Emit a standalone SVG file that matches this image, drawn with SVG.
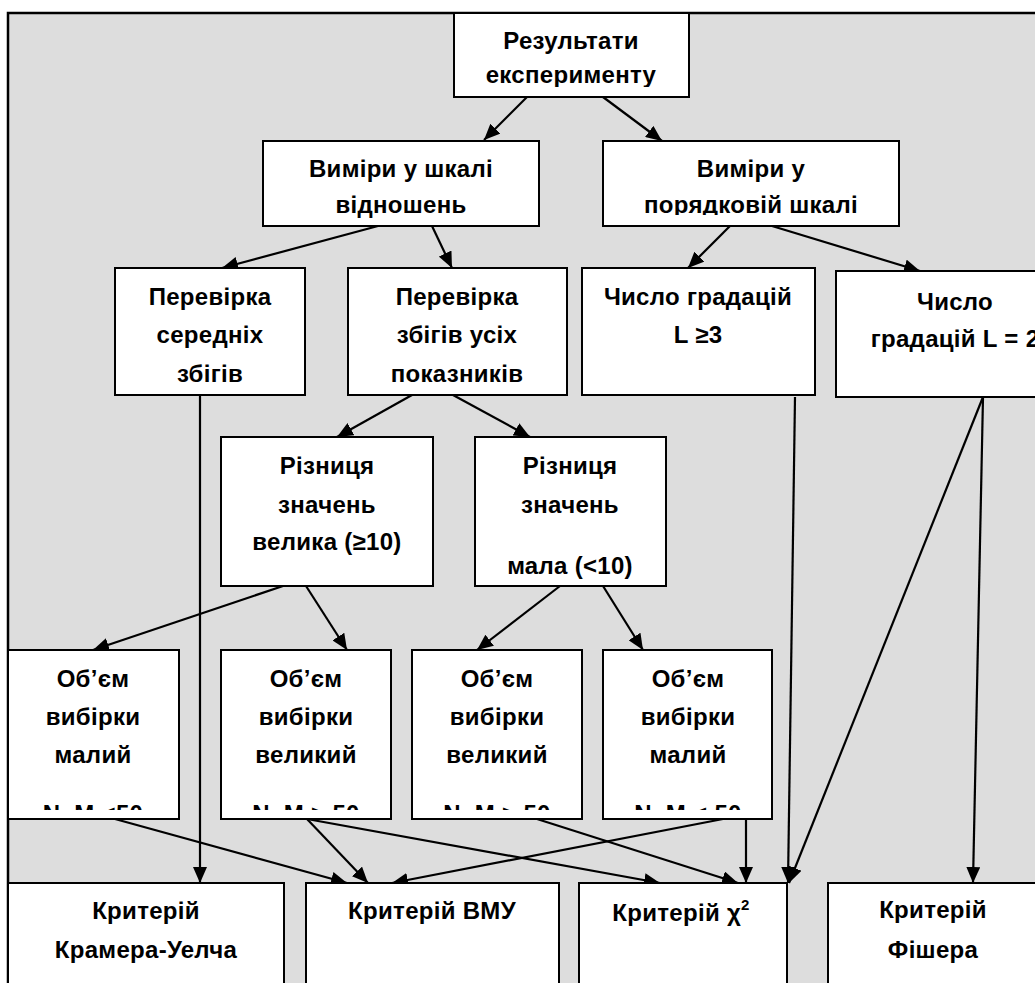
<svg xmlns="http://www.w3.org/2000/svg" width="1035" height="983" viewBox="0 0 1035 983">
<style>
.box{fill:#fff;stroke:#000;stroke-width:2}
.t{font-family:"Liberation Sans",Arial,sans-serif;font-weight:bold;font-size:24px;letter-spacing:0.3px;fill:#000;text-anchor:middle}
.c{fill:none;stroke:#000;stroke-width:2.2;marker-end:url(#ah)}
</style>
<defs>
<marker id="ah" markerUnits="userSpaceOnUse" markerWidth="16" markerHeight="14" viewBox="0 0 16 14" refX="16" refY="7" orient="auto">
<path d="M0,0 L16,7 L0,14 z" fill="#000"/>
</marker>
<clipPath id="k1"><rect x="454" y="13" width="235" height="74"/></clipPath>
<clipPath id="k2b"><rect x="603" y="141" width="296" height="74"/></clipPath>
<clipPath id="k5a"><rect x="8" y="650" width="171" height="160"/></clipPath>
<clipPath id="k5b"><rect x="221" y="650" width="170" height="160"/></clipPath>
<clipPath id="k5c"><rect x="412" y="650" width="170" height="160"/></clipPath>
<clipPath id="k5d"><rect x="603" y="650" width="169" height="160"/></clipPath>
</defs>
<rect x="8" y="13" width="1040" height="1000" fill="#ddd" stroke="#000" stroke-width="2.5"/>
<g id="connectors">
<path class="c" d="M527,97 L484,140"/>
<path class="c" d="M603,97 L662,141"/>
<path class="c" d="M378,226 L222,268"/>
<path class="c" d="M432,226 L452,268"/>
<path class="c" d="M730,226 L688,268"/>
<path class="c" d="M772,226 L920,271"/>
<path class="c" d="M200,395 L200,883"/>
<path class="c" d="M412,395 L337,437"/>
<path class="c" d="M453,395 L530,437"/>
<path class="c" d="M283,586 L93,650"/>
<path class="c" d="M306,586 L347,650"/>
<path class="c" d="M560,586 L477,650"/>
<path class="c" d="M603,586 L643,650"/>
<path class="c" d="M795,397 L788,883"/>
<path class="c" d="M983,397 L789,883"/>
<path class="c" d="M983,397 L973,883"/>
<path class="c" d="M115,819 L347,883"/>
<path class="c" d="M307,819 L368,883"/>
<path class="c" d="M307,819 L660,883"/>
<path class="c" d="M537,819 L738,883"/>
<path class="c" d="M723,819 L392,883"/>
<path class="c" d="M746,819 L746,883"/>
</g>
<g id="n-results"><rect class="box" x="454" y="13" width="235" height="84"/>
<g clip-path="url(#k1)"><text class="t" x="571" y="49">Результати</text><text class="t" x="571" y="83">експерименту</text></g></g>
<g id="n-ratio"><rect class="box" x="263" y="141" width="276" height="85"/>
<text class="t" x="401" y="177">Виміри у шкалі</text><text class="t" x="401" y="213">відношень</text></g>
<g id="n-ordinal"><rect class="box" x="603" y="141" width="296" height="85"/>
<g clip-path="url(#k2b)"><text class="t" x="751" y="177">Виміри у</text><text class="t" x="751" y="213">порядковій шкалі</text></g></g>
<g id="n-means"><rect class="box" x="115" y="268" width="190" height="127"/>
<text class="t" x="210" y="305">Перевірка</text><text class="t" x="210" y="343">середніх</text><text class="t" x="210" y="382">збігів</text></g>
<g id="n-all"><rect class="box" x="348" y="268" width="219" height="127"/>
<text class="t" x="457" y="305">Перевірка</text><text class="t" x="457" y="343">збігів усіх</text><text class="t" x="457" y="382">показників</text></g>
<g id="n-l3"><rect class="box" x="582" y="268" width="233" height="127"/>
<text class="t" x="698" y="305">Число градацій</text><text class="t" x="698" y="343">L ≥3</text></g>
<g id="n-l2"><rect class="box" x="836" y="271" width="240" height="126"/>
<text class="t" x="955" y="310">Число</text><text class="t" x="955" y="347">градацій L = 2</text></g>
<g id="n-big"><rect class="box" x="221" y="437" width="212" height="149"/>
<text class="t" x="327" y="474">Різниця</text><text class="t" x="327" y="513">значень</text><text class="t" x="327" y="550">велика (≥10)</text></g>
<g id="n-small"><rect class="box" x="475" y="437" width="191" height="149"/>
<text class="t" x="570" y="474">Різниця</text><text class="t" x="570" y="513">значень</text><text class="t" x="570" y="574">мала (&lt;10)</text></g>
<g id="n-s1"><rect class="box" x="8" y="650" width="171" height="169"/>
<g clip-path="url(#k5a)"><text class="t" x="93" y="687">Об’єм</text><text class="t" x="93" y="725">вибірки</text><text class="t" x="93" y="763">малий</text><text class="t" x="93" y="822">N, M &lt;50</text></g></g>
<g id="n-s2"><rect class="box" x="221" y="650" width="170" height="169"/>
<g clip-path="url(#k5b)"><text class="t" x="306" y="687">Об’єм</text><text class="t" x="306" y="725">вибірки</text><text class="t" x="306" y="763">великий</text><text class="t" x="306" y="822">N, M &gt; 50</text></g></g>
<g id="n-s3"><rect class="box" x="412" y="650" width="170" height="169"/>
<g clip-path="url(#k5c)"><text class="t" x="497" y="687">Об’єм</text><text class="t" x="497" y="725">вибірки</text><text class="t" x="497" y="763">великий</text><text class="t" x="497" y="822">N, M &gt; 50</text></g></g>
<g id="n-s4"><rect class="box" x="603" y="650" width="169" height="169"/>
<g clip-path="url(#k5d)"><text class="t" x="688" y="687">Об’єм</text><text class="t" x="688" y="725">вибірки</text><text class="t" x="688" y="763">малий</text><text class="t" x="688" y="822">N, M &lt; 50</text></g></g>
<g id="n-kramer"><rect class="box" x="8" y="883" width="276" height="130"/>
<text class="t" x="146" y="919">Критерій</text><text class="t" x="146" y="958">Крамера-Уелча</text></g>
<g id="n-vmu"><rect class="box" x="306" y="883" width="253" height="130"/>
<text class="t" x="432" y="919">Критерій ВМУ</text></g>
<g id="n-chi"><rect class="box" x="579" y="883" width="208" height="130"/>
<text class="t" x="681" y="921">Критерій χ<tspan font-size="15" dy="-11">2</tspan></text></g>
<g id="n-fisher"><rect class="box" x="828" y="883" width="220" height="130"/>
<text class="t" x="933" y="918">Критерій</text><text class="t" x="933" y="958">Фішера</text></g>
</svg>
